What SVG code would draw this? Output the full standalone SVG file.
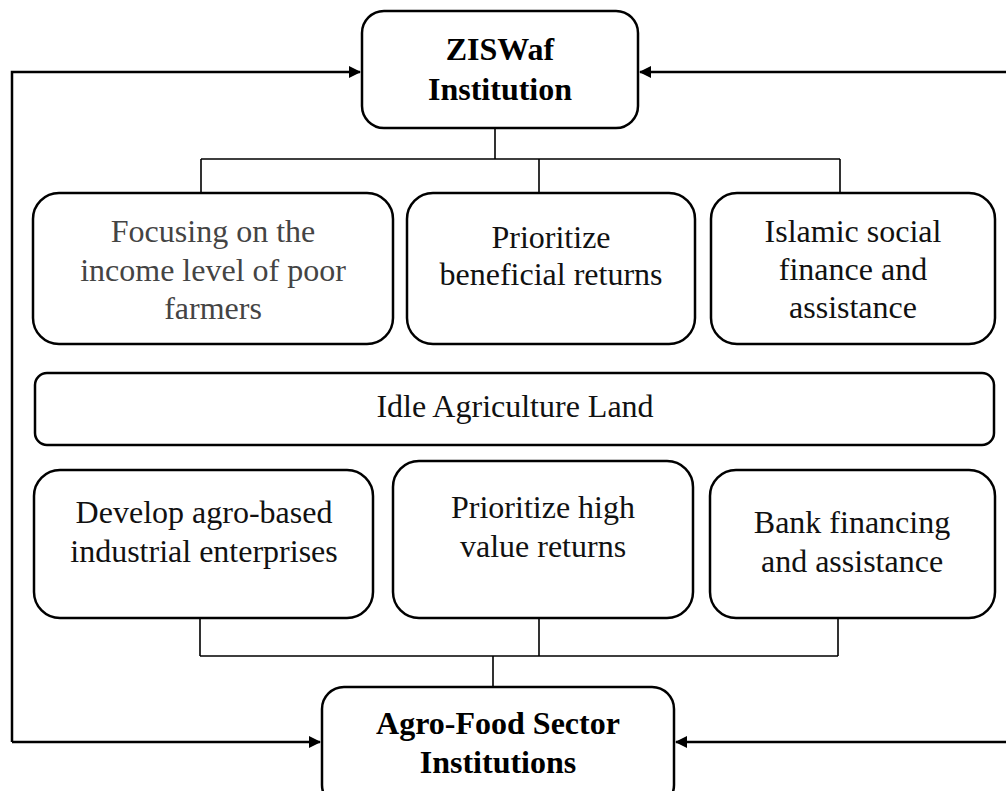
<svg xmlns="http://www.w3.org/2000/svg" width="1006" height="791" viewBox="0 0 1006 791">
<style>
.box{fill:#fff;stroke:#000;stroke-width:2.5}
.t{font-family:"Liberation Serif","Times New Roman",serif;font-size:32px;fill:#111;text-anchor:middle}
.b{font-weight:bold;fill:#000}
.g{fill:#444}
.c{fill:none;stroke:#000;stroke-width:1.6}
.a{fill:none;stroke:#000;stroke-width:2.5}
</style>
<defs>
<marker id="ah" markerWidth="12" markerHeight="12" refX="11" refY="6" orient="auto" markerUnits="userSpaceOnUse">
<path d="M0,0 L12,6 L0,12 Z" fill="#000"/>
</marker>
</defs>
<g id="connectors">
<path class="c" d="M495,128 V159 M201,159 H840 M201,159 V193 M539,159 V193 M840,159 V193"/>
<path class="c" d="M200,618 V656 M539,618 V656 M838,618 V656 M200,656 H838 M493,656 V687"/>
<path class="a" d="M12,742 V72 H360" marker-end="url(#ah)"/>
<path class="a" d="M1006,72 H640" marker-end="url(#ah)"/>
<path class="a" d="M12,742 H320" marker-end="url(#ah)"/>
<path class="a" d="M1006,742 H676" marker-end="url(#ah)"/>
</g>
<g id="ziswaf">
<rect class="box" x="362" y="11" width="276" height="117" rx="22"/>
<text class="t b" x="500" y="60">ZISWaf</text>
<text class="t b" x="500" y="100">Institution</text>
</g>
<g id="focusing">
<rect class="box" x="33" y="193" width="360" height="151" rx="26"/>
<text class="t g" x="213" y="242">Focusing on the</text>
<text class="t g" x="213" y="281">income level of poor</text>
<text class="t g" x="213" y="319">farmers</text>
</g>
<g id="beneficial">
<rect class="box" x="407" y="193" width="288" height="151" rx="26"/>
<text class="t" x="551" y="248">Prioritize</text>
<text class="t" x="551" y="285">beneficial returns</text>
</g>
<g id="islamic">
<rect class="box" x="711" y="193" width="284" height="151" rx="26"/>
<text class="t" x="853" y="242">Islamic social</text>
<text class="t" x="853" y="280">finance and</text>
<text class="t" x="853" y="318">assistance</text>
</g>
<g id="idle">
<rect class="box" x="35" y="373" width="959" height="72" rx="12"/>
<text class="t" x="515" y="417">Idle Agriculture Land</text>
</g>
<g id="develop">
<rect class="box" x="34" y="470" width="339" height="148" rx="26"/>
<text class="t" x="204" y="523">Develop agro-based</text>
<text class="t" x="204" y="562">industrial enterprises</text>
</g>
<g id="highvalue">
<rect class="box" x="393" y="461" width="300" height="157" rx="26"/>
<text class="t" x="543" y="518">Prioritize high</text>
<text class="t" x="543" y="557">value returns</text>
</g>
<g id="bank">
<rect class="box" x="710" y="470" width="285" height="148" rx="26"/>
<text class="t" x="852" y="533">Bank financing</text>
<text class="t" x="852" y="572">and assistance</text>
</g>
<g id="agrofood">
<rect class="box" x="322" y="687" width="352" height="120" rx="22"/>
<text class="t b" x="498" y="734">Agro-Food Sector</text>
<text class="t b" x="498" y="773">Institutions</text>
</g>
</svg>
